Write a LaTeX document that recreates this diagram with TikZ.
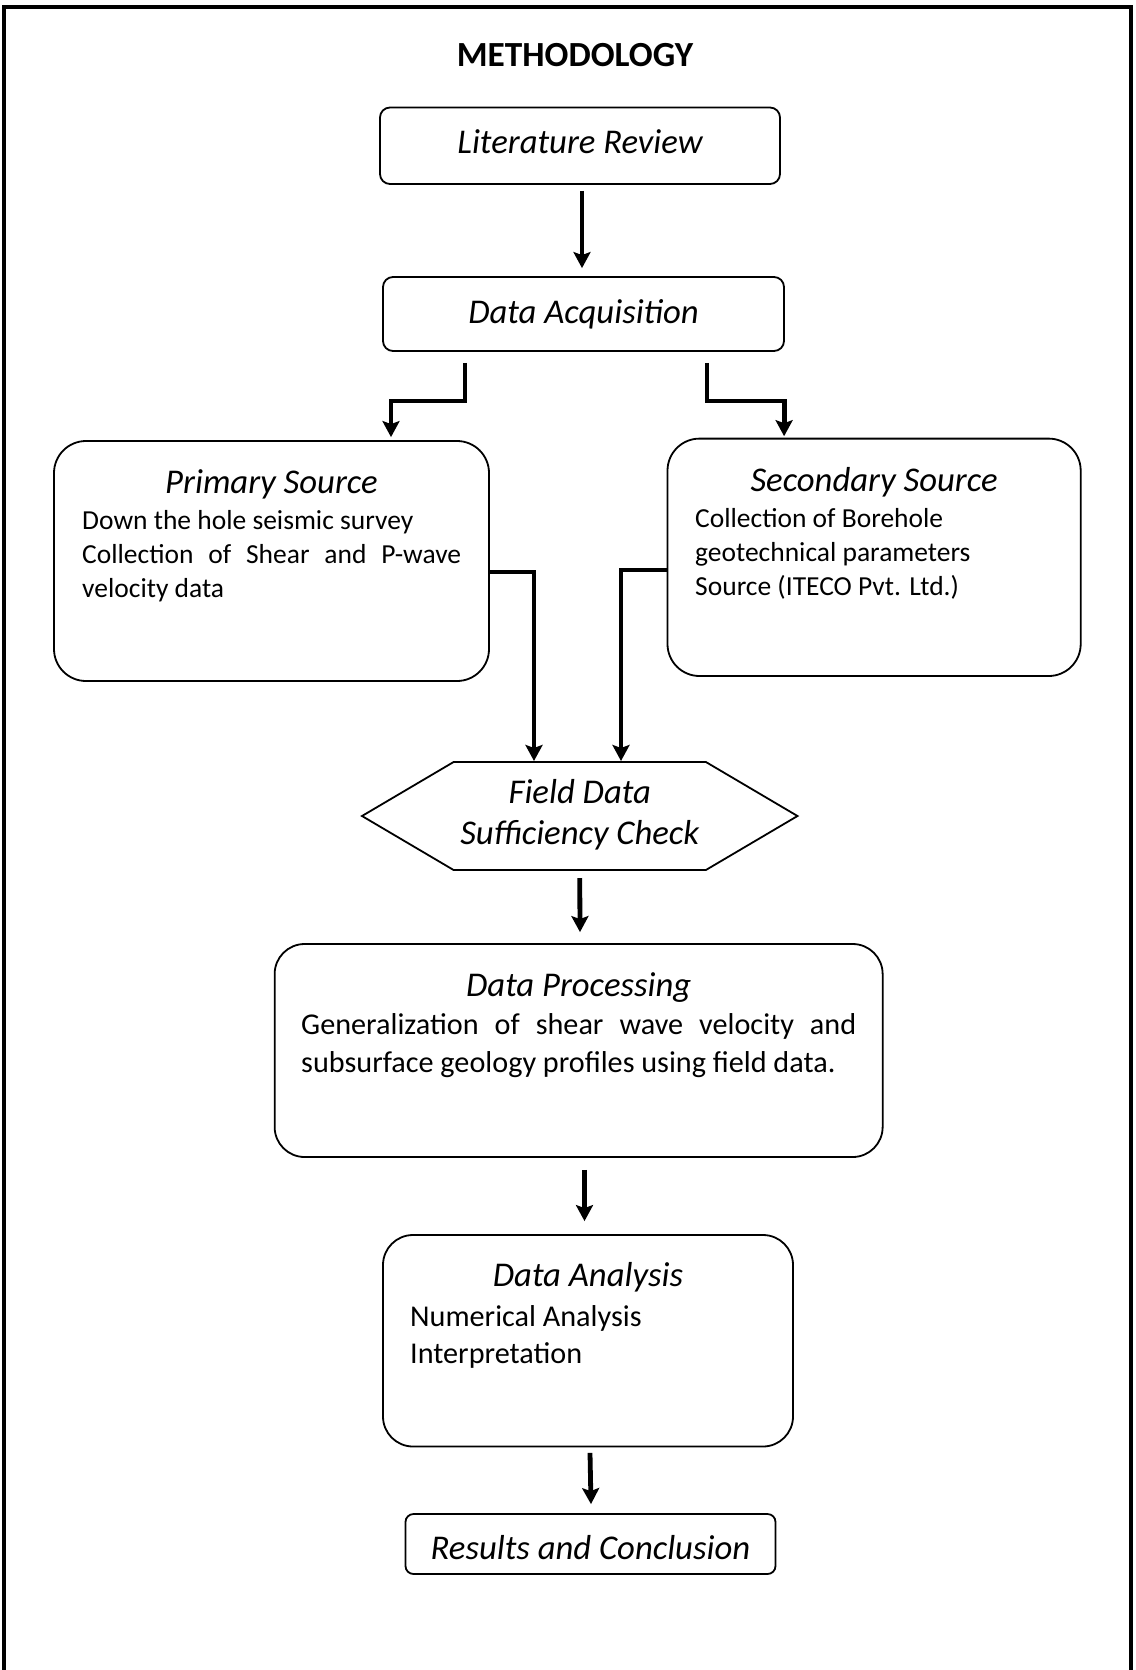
\documentclass[tikz,border=0pt]{standalone}
\usepackage{fontspec}
\setmainfont{Carlito}
\usetikzlibrary{arrows.meta,calc}
\tolerance=10000 \hyphenpenalty=10000 \exhyphenpenalty=10000
\newcommand{\headfont}{\fontsize{34.7}{40}\selectfont\itshape}
\newcommand{\smallbody}[1]{\fontsize{27.5}{#1}\selectfont}
\newcommand{\bigbody}[1]{\fontsize{30.2}{#1}\selectfont}
\begin{document}
\begin{tikzpicture}[x=1pt,y=-1pt,
  box/.style={draw, line width=1.8pt, rounded corners=#1, inner sep=0pt},
  head/.style={inner sep=0pt, font=\headfont},
  arr/.style={line width=4.8pt, -{Stealth[length=16pt,width=17pt,inset=3pt]}},
  frame/.style={line width=4pt}]
\fill[white] (0,0) rectangle (1135,1670);
\useasboundingbox (0,0) rectangle (1135,1670);
\draw[frame] (3.5,1690) -- (3.5,7) -- (1131,7) -- (1131,1690);

\node[font=\fontsize{35.3}{40}\selectfont\bfseries, inner sep=0pt] (title) at (575,55.5) {METHODOLOGY};

\node[box=10pt, minimum width=400pt, minimum height=76.5pt] (lr) at (580,145.75) {};
\node[head] (lrt) at (580,141.5) {Literature Review};
\node[box=10pt, minimum width=401pt, minimum height=74pt, font=\headfont] (da) at (583.5,314) {Data Acquisition};

\node[box=32pt, minimum width=435pt, minimum height=240pt] (ps) at (271.5,561) {};
\node[head] (psh) at (271.5,484) {Primary Source};
\node[anchor=north west, inner sep=0pt, text width=379pt, align=justify, font=\smallbody{34}] (psb) at (82,509.75)
  {Down the hole seismic survey\\ Collection of Shear and P-wave velocity data};

\node[box=32pt, minimum width=413.2pt, minimum height=237.4pt] (ss) at (874.1,557.3) {};
\node[head] (ssh) at (874.1,482.5) {Secondary Source};
\node[anchor=north west, inner sep=0pt, align=left, font=\smallbody{33.8}] (ssb) at (695,508.5)
  {Collection of Borehole\\ geotechnical parameters\\ Source (ITECO Pvt. Ltd.)};

\draw[line width=1.8pt] (362,816) -- (453.6,762) -- (705.9,762) -- (797.5,816) -- (705.9,870) -- (453.6,870) -- cycle;
\node[inner sep=0pt, align=center, font=\fontsize{34.7}{40.6}\selectfont\itshape] (fd) at (579.75,814.7) {Field Data\\ Sufficiency Check};
\coordinate (fdl) at (534,762);
\coordinate (fdr) at (621,762);
\coordinate (fds) at (579.75,870);

\node[box=30pt, minimum width=608pt, minimum height=213pt] (dp) at (578.65,1050.5) {};
\node[head] (dph) at (578.65,987.2) {Data Processing};
\node[anchor=north west, inner sep=0pt, text width=555pt, align=justify, font=\bigbody{37.3}] (dpb) at (301,1013.8)
  {Generalization of shear wave velocity and subsurface geology profiles using field data.};

\node[box=30pt, minimum width=410pt, minimum height=211.5pt] (dan) at (588,1340.75) {};
\node[head] (danh) at (588,1277.7) {Data Analysis};
\node[anchor=north west, inner sep=0pt, align=left, font=\bigbody{36.2}] (danb) at (410,1305.8)
  {Numerical Analysis\\ Interpretation};

\node[box=8pt, minimum width=370pt, minimum height=60pt] (rc) at (590.5,1544) {};
\node[head] (rct) at (590.5,1547.2) {Results and Conclusion};

% connectors
\draw[arr] ($(lr.south)+(2,6)$) -- ($(da.north)+(-1.5,-8)$);
\draw[arr] ($(da.south)+(-118.5,11)$) -- ++(0,38) -| ($(ps.north)+(119.5,-3)$);
\draw[arr] ($(da.south)+(123.5,11)$) -- ++(0,38) -| ($(ss.north)+(-90,-1.5)$);
\draw[arr] ($(ps.east)+(0,11)$) -| ($(fdl)+(0,-1)$);
\draw[arr] ($(ss.west)+(0,12.7)$) -| ($(fdr)+(0,-1)$);
\draw[arr] ($(fds)+(0,8)$) -- ($(dp.north)+(1.35,-11)$);
\draw[arr] ($(dp.south)+(5.85,12)$) -- ($(dan.north)+(-3.5,-13)$);
\draw[arr] ($(dan.south)+(2,5.5)$) -- ($(rc.north)+(0.5,-9)$);
\end{tikzpicture}
\end{document}
